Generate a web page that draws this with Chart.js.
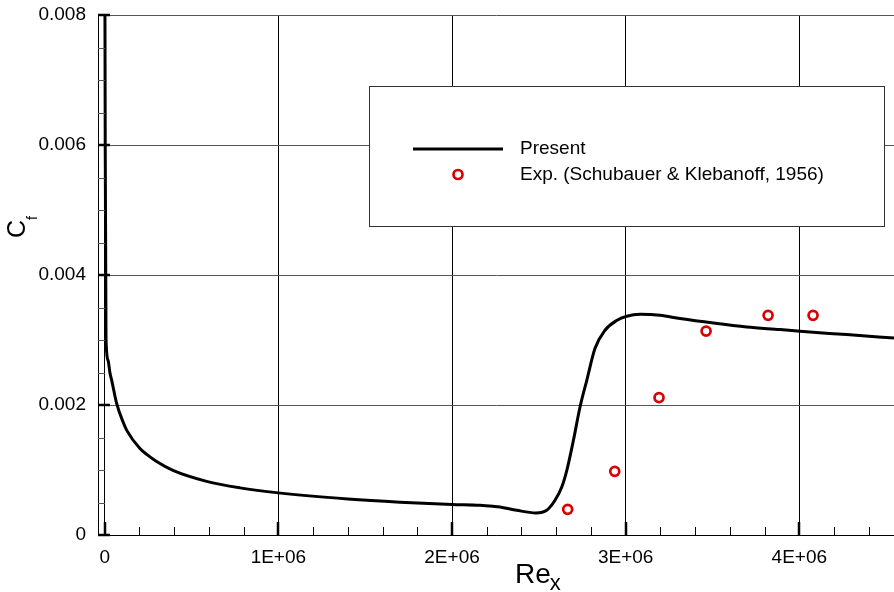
<!DOCTYPE html>
<html><head><meta charset="utf-8">
<script src="https://cdn.jsdelivr.net/npm/chart.js@4.4.1/dist/chart.umd.min.js"></script>
<style>html,body{margin:0;padding:0;background:#fff;overflow:hidden}canvas{display:block}</style>
</head><body>
<canvas id="c" width="894" height="592"></canvas>
<script>
// ---- data ----
const presentRe = [0, 3000, 7500, 19000, 30500, 40300, 69100, 107000, 127000, 203000, 242000, 299000, 393000, 587000, 779000, 1000000, 1400000, 1700000, 2000000, 2161000, 2236000, 2276000, 2373000, 2483000, 2545000, 2593000, 2632000, 2661000, 2699000, 2737000, 2776000, 2823000, 2881000, 2948000, 3006000, 3083000, 3198000, 3313000, 3505000, 3697000, 3889000, 4004000, 4273000, 4545000];
const presentCf = [0.0100, 0.0060, 0.00303, 0.00269, 0.00249, 0.00238, 0.00202, 0.00173, 0.00161, 0.00133, 0.00124, 0.00113, 0.000994, 0.000825, 0.000725, 0.000648, 0.000554, 0.000505, 0.00047, 0.000457, 0.000442, 0.000431, 0.00038, 0.00034, 0.00038, 0.000534, 0.000738, 0.000995, 0.001457, 0.001969, 0.00238, 0.002868, 0.00315, 0.0033, 0.003365, 0.003395, 0.00338, 0.00333, 0.00326, 0.0032, 0.00316, 0.003134, 0.003083, 0.00303];
const expRe = [2666000, 2937000, 3192000, 3463000, 3820000, 4079000];
const expCf = [0.000395, 0.00098, 0.002114, 0.003138, 0.00338, 0.00338];
const xTickValues = [0, 1000000, 2000000, 3000000, 4000000];
const xTickLabels = ['0', '1E+06', '2E+06', '3E+06', '4E+06'];
const yTickValues = [0, 0.002, 0.004, 0.006, 0.008];
const yTickLabels = ['0', '0.002', '0.004', '0.006', '0.008'];
const xMinorStep = 200000;
const yMinorStep = 0.0005;
const seriesLabels = ['Present', 'Exp. (Schubauer & Klebanoff, 1956)'];
const xTitle = ['Re', 'x'];
const yTitle = ['C', 'f'];

const FONT = "'Liberation Sans', Arial, Helvetica, sans-serif";
Chart.defaults.font.family = FONT;
Chart.defaults.color = '#000';

const decor = {
  id: 'decor',
  afterDatasetsDraw(chart) {
    const {ctx, chartArea: a, scales: {x, y}} = chart;
    ctx.save();
    ctx.strokeStyle = '#000';
    const nx = Math.floor(x.max / xMinorStep);
    for (let i = 0; i <= nx; i++) {
      const v = i * xMinorStep;
      const px = Math.round(x.getPixelForValue(v));
      const major = xTickValues.includes(v);
      ctx.lineWidth = major ? 2.5 : 1;
      ctx.beginPath();
      ctx.moveTo(px + (major ? 0 : 0.5), a.bottom);
      ctx.lineTo(px + (major ? 0 : 0.5), a.bottom - (major ? 13 : 8));
      ctx.stroke();
    }
    const ny = Math.round(y.max / yMinorStep);
    for (let i = 0; i <= ny; i++) {
      const v = i * yMinorStep;
      const py = Math.round(y.getPixelForValue(v));
      const major = i % 4 === 0;
      ctx.lineWidth = major ? 2.5 : 1;
      ctx.strokeStyle = major ? '#000' : '#555';
      ctx.beginPath();
      ctx.moveTo(a.left, py + (major ? 0 : 0.5));
      ctx.lineTo(a.left + (major ? 12 : 7), py + (major ? 0 : 0.5));
      ctx.stroke();
    }
    ctx.restore();
  },
  afterDraw(chart) {
    const {ctx} = chart;
    const ds = chart.data.datasets;
    ctx.save();
    const bx = 369.5, by = 86.5, bw = 515, bh = 140;
    ctx.fillStyle = '#fff';
    ctx.fillRect(bx, by, bw, bh);
    ctx.strokeStyle = '#333';
    ctx.lineWidth = 1;
    ctx.strokeRect(bx, by, bw, bh);
    ctx.strokeStyle = ds[0].borderColor;
    ctx.lineWidth = 3;
    ctx.beginPath();
    ctx.moveTo(413, 149); ctx.lineTo(503, 149);
    ctx.stroke();
    ctx.strokeStyle = ds[1].pointBorderColor;
    ctx.lineWidth = ds[1].pointBorderWidth;
    ctx.beginPath();
    ctx.arc(458, 174.5, ds[1].pointRadius, 0, Math.PI * 2);
    ctx.stroke();
    ctx.fillStyle = '#000';
    ctx.font = '19px ' + FONT;
    ctx.textBaseline = 'middle';
    ctx.textAlign = 'left';
    ctx.fillText(ds[0].label, 520, 149);
    ctx.fillText(ds[1].label, 520, 174.5);
    ctx.textBaseline = 'alphabetic';
    ctx.font = '28px ' + FONT;
    ctx.fillText(xTitle[0], 515, 583);
    const w = ctx.measureText(xTitle[0]).width;
    ctx.font = '22px ' + FONT;
    ctx.fillText(xTitle[1], 514 + w, 590);
    ctx.translate(25, 238);
    ctx.rotate(-Math.PI / 2);
    ctx.font = '25px ' + FONT;
    ctx.fillText(yTitle[0], 0, 0);
    const cw = ctx.measureText(yTitle[0]).width;
    ctx.font = '14px ' + FONT;
    ctx.fillText(yTitle[1], cw, 12);
    ctx.restore();
  }
};

new Chart(document.getElementById('c'), {
  type: 'scatter',
  data: {
    datasets: [
      {
        label: seriesLabels[0],
        data: presentRe.map((v, i) => ({x: v, y: presentCf[i]})),
        showLine: true,
        borderColor: '#000',
        backgroundColor: '#000',
        borderWidth: 3,
        pointRadius: 0,
        cubicInterpolationMode: 'monotone',
        fill: false
      },
      {
        label: seriesLabels[1],
        data: expRe.map((v, i) => ({x: v, y: expCf[i]})),
        showLine: false,
        pointStyle: 'circle',
        pointRadius: 4.5,
        pointBorderWidth: 2.7,
        pointBorderColor: '#d80000',
        pointBackgroundColor: 'rgba(255,255,255,0)'
      }
    ]
  },
  options: {
    responsive: false,
    animation: false,
    events: [],
    layout: {autoPadding: false, padding: {top: 15, left: 0, right: 0, bottom: 0}},
    plugins: {legend: {display: false}, tooltip: {enabled: false}},
    scales: {
      x: {
        type: 'linear',
        min: -38600,
        max: 4545000,
        afterBuildTicks: s => { s.ticks = xTickValues.map(v => ({value: v})); },
        afterFit: s => { s.height = 57; s.paddingLeft = 0; s.paddingRight = 0; },
        ticks: {
          callback: v => xTickLabels[xTickValues.indexOf(v)],
          font: {size: 19},
          color: '#000',
          padding: 11,
          maxRotation: 0,
          autoSkip: false
        },
        grid: {color: '#000', lineWidth: 1, drawTicks: false},
        border: {display: true, color: '#000', width: 1}
      },
      y: {
        type: 'linear',
        min: 0,
        max: 0.008,
        afterBuildTicks: s => { s.ticks = yTickValues.map(v => ({value: v})); },
        afterFit: s => { s.width = 98; s.paddingTop = 0; s.paddingBottom = 0; },
        ticks: {
          callback: v => yTickLabels[yTickValues.indexOf(v)],
          font: {size: 19},
          color: '#000',
          padding: 12
        },
        grid: {color: '#555', lineWidth: 1, drawTicks: false},
        border: {display: true, color: '#000', width: 1}
      }
    }
  },
  plugins: [decor]
});
</script>
</body></html>
